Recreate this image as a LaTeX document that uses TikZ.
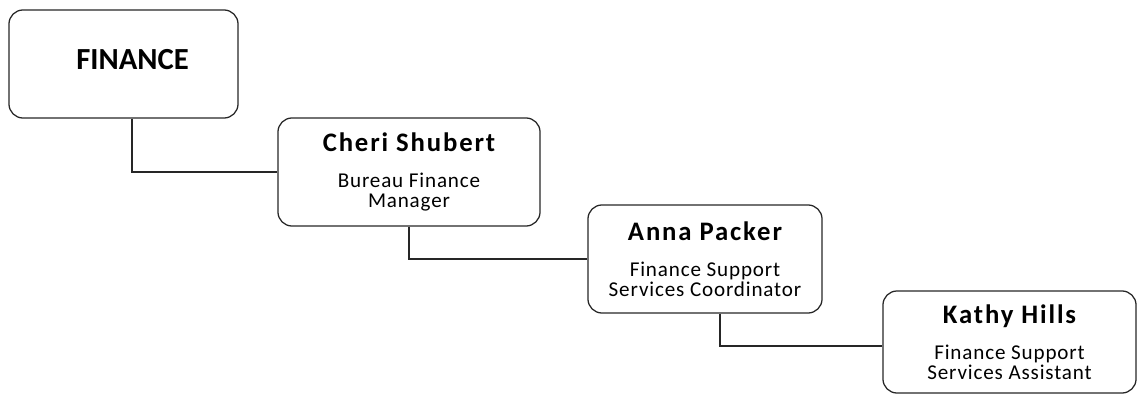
\documentclass[tikz,border=0pt]{standalone}
\usepackage{fontspec}
\setmainfont{Carlito}
\newfontfamily\namefont[LetterSpace=7]{Carlito}
\newfontfamily\jobfont[LetterSpace=4]{Carlito}
\usepackage{tikz}
\usetikzlibrary{positioning}

\tikzset{
  unitbox/.style={draw=black!85, line width=0.9pt, rounded corners=0.35cm, align=center, inner sep=0pt},
  deptbox/.style={unitbox, minimum width=5.725cm, minimum height=2.7cm, text depth=0.25cm, font=\fontsize{21.8}{24}\selectfont\bfseries},
  personbox/.style={unitbox, minimum height=2.7cm, font=\fontsize{15}{14.2}\jobfont},
  link/.style={draw=black!85, line width=0.9pt},
}
\newcommand{\person}[1]{{\fontsize{19}{22}\namefont\bfseries #1}\\[11.3pt]}

\begin{document}
\begin{tikzpicture}[x=0.025cm, y=-0.025cm]
\useasboundingbox (0,0) rectangle (1139,394);
\node[deptbox] (finance) at (123.5,64) {\hspace*{0.45cm}FINANCE};
\node[personbox, minimum width=6.55cm] (cheri) at (409,172) {\person{Cheri Shubert}Bureau Finance\\Manager};
\node[personbox, minimum width=5.85cm] (anna) at (705,259) {\person{Anna Packer}Finance Support\\Services Coordinator};
\node[personbox, minimum width=6.325cm, minimum height=2.55cm] (kathy) at (1009.5,342) {\person{Kathy Hills}Finance Support\\Services Assistant};

\draw[link] ([xshift=0.2125cm]finance.south) |- (cheri.west);
\draw[link] (cheri.south) |- (anna.west);
\draw[link] ([xshift=0.375cm]anna.south) |- ([yshift=-0.1cm]kathy.west);
\end{tikzpicture}
\end{document}
